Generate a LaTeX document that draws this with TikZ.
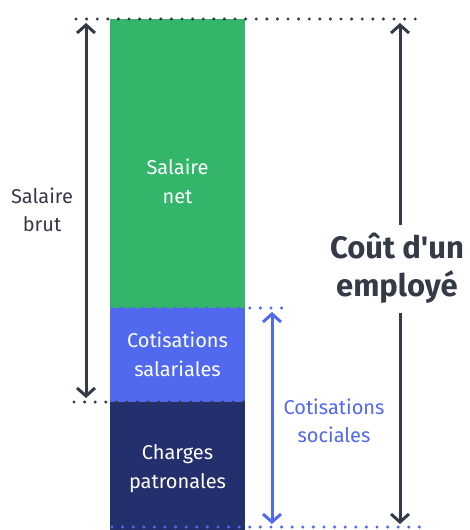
\documentclass[tikz,border=0pt]{standalone}
\usepackage{fontspec}
\setmainfont{Fira Sans}[Ligatures=TeXOff]
\usetikzlibrary{arrows.meta}
\definecolor{cgreen}{HTML}{33B56A}
\definecolor{cblue}{HTML}{5069EE}
\definecolor{cnavy}{HTML}{24306E}
\definecolor{cdark}{HTML}{343A48}
\tikzset{
  bar/.style={draw=none, minimum width=135pt, inner sep=0pt, anchor=north west},
  bartext/.style={text=white, font=\fontsize{20}{29}\selectfont, align=center},
  dotline/.style={line width=3.4pt, line cap=round, dash pattern=on 0pt off 10.6pt},
  arr/.style={line width=3pt, cdark, {Straight Barb[length=8pt,width=18pt]}-{Straight Barb[length=8pt,width=18pt]}},
  uparr/.style={line width=3pt, cdark, -{Straight Barb[length=8pt,width=18pt]}},
  barr/.style={line width=3pt, cblue, {Straight Barb[length=8pt,width=18pt]}-{Straight Barb[length=8pt,width=18pt]}},
  label/.style={font=\fontsize{20}{28}\selectfont, align=center}
}
\begin{document}
\begin{tikzpicture}[x=1pt,y=-1pt]
\useasboundingbox (0,0) rectangle (470,530);
% bars
\node[bar, fill=cgreen, minimum height=289pt] (net) at (110,19) {};
\node[bar, fill=cblue, minimum height=94pt] (sal) at (110,308) {};
\node[bar, fill=cnavy, minimum height=128pt] (pat) at (110,402) {};
% bar texts
\node[bartext] (tnet) at (177.5,181) {Salaire\\net};
\node[bartext] (tsal) at (177.5,354) {Cotisations\\salariales};
\node[bartext] (tpat) at (177.5,469) {Charges\\patronales};
% dotted lines
\coordinate (t1) at (76,19); \coordinate (t2) at (416,19);
\coordinate (m1) at (112,308); \coordinate (m2) at (283,308);
\coordinate (b1) at (74,402); \coordinate (b2) at (244,402);
\coordinate (z1) at (112,527); \coordinate (z2) at (425,527);
\draw[dotline, cdark] (t1) -- (t2);
\draw[dotline, cblue] (m1) -- (m2);
\draw[dotline, cdark] (b1) -- (b2);
\draw[dotline, cblue] (z1) -- (z2);
% left arrow
\coordinate (la) at (86,23); \coordinate (lb) at (86,398);
\draw[arr] (la) -- (lb);
\node[label, text=cdark] (brut) at (42,210) {Salaire\\brut};
% blue arrow
\coordinate (ba) at (272,312); \coordinate (bb) at (272,524);
\draw[barr] (ba) -- (bb);
\node[label, text=cblue] (soc) at (334,421) {Cotisations\\sociales};
% right arrow
\node[text=cdark, font=\bfseries\fontsize{31}{38}\selectfont, align=center, inner sep=2pt] (cout) at (397,268) {Coût d'un\\employé};
\coordinate (ra) at (400,23); \coordinate (rb) at (400,524);
\draw[uparr] (cout.north -| ra) ++(0,-6) -- (ra);
\draw[uparr] (cout.south -| rb) ++(0,8) -- (rb);
\end{tikzpicture}
\end{document}
